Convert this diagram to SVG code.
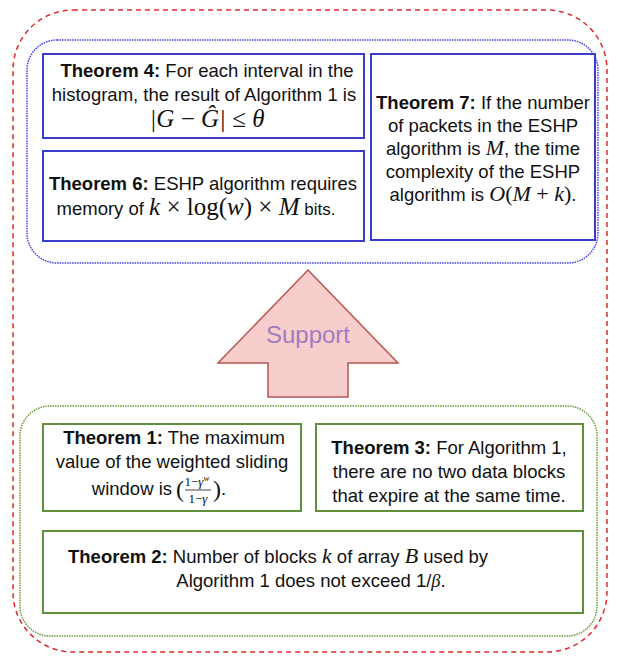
<svg xmlns="http://www.w3.org/2000/svg" width="619" height="657" viewBox="0 0 619 657">
<style>
.t{font-family:"Liberation Sans",Arial,sans-serif;font-size:18.5px;fill:#111;text-anchor:middle}
.st{text-anchor:start}
.en{text-anchor:end}
.b{font-weight:bold}
.m{font-family:"Liberation Serif","Times New Roman",serif;font-style:italic;font-size:25px}
.mr{font-family:"Liberation Serif","Times New Roman",serif;font-style:normal;font-size:25px}
.m2{font-family:"Liberation Serif","Times New Roman",serif;font-style:italic;font-size:22px}
.mr2{font-family:"Liberation Serif","Times New Roman",serif;font-style:normal;font-size:22px}
.bb{fill:#fff;stroke:#3b3bcc;stroke-width:2}
.gb{fill:#fff;stroke:#5e8f3a;stroke-width:2}
.fr{font-family:"Liberation Serif","Times New Roman",serif;fill:#111}
</style>
<rect width="619" height="657" fill="#fff"/>
<g id="outer">
<rect x="13" y="10" width="594" height="642" rx="60" fill="none" stroke="#e02a2a" stroke-width="1.5" stroke-dasharray="5 4"/>
</g>
<g id="top-group">
<rect x="27" y="40" width="571" height="223" rx="30" fill="none" stroke="#4444ee" stroke-width="1.5" stroke-dasharray="1.5 1"/>
</g>
<g id="bottom-group">
<rect x="20" y="406" width="577" height="230" rx="30" fill="none" stroke="#6a9a3a" stroke-width="1.5" stroke-dasharray="1.5 1"/>
</g>
<g id="th4">
<rect class="bb" x="43" y="54" width="321" height="84"/>
<text class="t" x="207" y="77"><tspan class="b">Theorem 4:</tspan> For each interval in the</text>
<text class="t" x="204" y="101">histogram, the result of Algorithm 1 is</text>
<text class="t" x="207" y="127"><tspan class="m">|G</tspan><tspan class="mr"> − </tspan><tspan class="m">Ĝ|</tspan><tspan class="mr"> ≤ </tspan><tspan class="m">θ</tspan></text>
</g>
<g id="th6">
<rect class="bb" x="43" y="151" width="321" height="90"/>
<text class="t" x="203" y="190"><tspan class="b">Theorem 6:</tspan> ESHP algorithm requires</text>
<text class="t" x="196" y="215">memory of <tspan class="m">k</tspan><tspan class="mr"> × log(</tspan><tspan class="m">w</tspan><tspan class="mr">) × </tspan><tspan class="m">M</tspan><tspan font-size="17"> bits.</tspan></text>
</g>
<g id="th7">
<rect class="bb" x="371" y="54" width="224" height="186"/>
<text class="t" x="483" y="109"><tspan class="b">Theorem 7:</tspan> If the number</text>
<text class="t" x="483" y="132">of packets in the ESHP</text>
<text class="t" x="483" y="155">algorithm is <tspan class="m2">M</tspan>, the time</text>
<text class="t" x="483" y="178">complexity of the ESHP</text>
<text class="t" x="483" y="201">algorithm is <tspan class="m2">O</tspan><tspan class="mr2">(</tspan><tspan class="m2">M</tspan><tspan class="mr2"> + </tspan><tspan class="m2">k</tspan><tspan class="mr2">)</tspan>.</text>
</g>
<g id="support">
<polygon points="308,270 398,363 348,363 348,397 268,397 268,363 218,363" fill="#f8cecc" stroke="#b85450" stroke-width="1.5"/>
<text x="308" y="343" font-family="'Liberation Sans',Arial,sans-serif" font-size="24" fill="#a07cc0" text-anchor="middle">Support</text>
</g>
<g id="th1">
<rect class="gb" x="43" y="424" width="258" height="87"/>
<text class="t" x="174" y="444"><tspan class="b">Theorem 1:</tspan> The maximum</text>
<text class="t" x="172" y="468">value of the weighted sliding</text>
<text class="t en" x="172" y="495">window is</text>
<text class="fr" x="176" y="497" font-size="24">(</text>
<text class="fr" x="197" y="486" font-size="13" text-anchor="middle">1−<tspan font-style="italic">γ</tspan><tspan font-style="italic" font-size="9" dy="-5">w</tspan></text>
<line x1="185" y1="490" x2="211" y2="490" stroke="#111" stroke-width="0.8"/>
<text class="fr" x="198" y="503" font-size="13" text-anchor="middle">1−<tspan font-style="italic">γ</tspan></text>
<text class="fr" x="213" y="497" font-size="24">)</text>
<text class="t st" x="221" y="495">.</text>
</g>
<g id="th3">
<rect class="gb" x="316" y="424" width="267" height="87"/>
<text class="t" x="449" y="454"><tspan class="b">Theorem 3:</tspan> For Algorithm 1,</text>
<text class="t" x="449" y="478">there are no two data blocks</text>
<text class="t" x="449" y="502">that expire at the same time.</text>
</g>
<g id="th2">
<rect class="gb" x="43" y="531" width="540" height="82"/>
<text class="t st" x="68" y="563"><tspan class="b">Theorem 2:</tspan> Number of blocks <tspan class="m2">k</tspan> of array <tspan class="m2">B</tspan> used by</text>
<text class="t" x="311" y="587">Algorithm 1 does not exceed 1/<tspan font-family="'Liberation Serif',serif" font-style="italic">β</tspan>.</text>
</g>
<g id="connectors"></g>
</svg>
